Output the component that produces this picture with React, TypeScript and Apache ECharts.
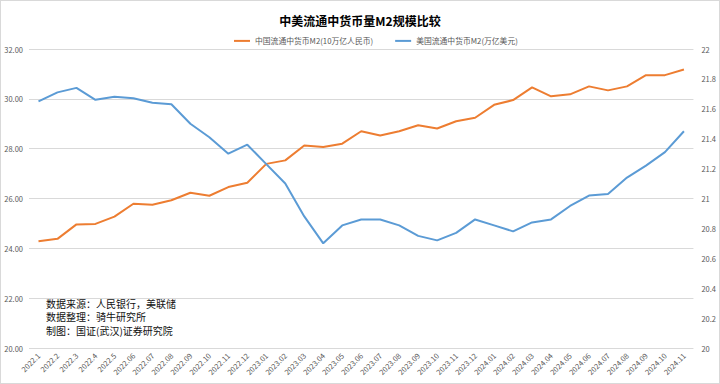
import React, { useEffect, useRef } from "react";
import * as echarts from "echarts";

const categories = [
  "2022.1", "2022.2", "2022.3", "2022.4", "2022.5", "2022.06", "2022.07", "2022.08", "2022.09", "2022.10", "2022.11", "2022.12",
  "2023.01", "2023.02", "2023.03", "2023.04", "2023.05", "2023.06", "2023.07", "2023.08", "2023.09", "2023.10", "2023.11", "2023.12",
  "2024.01", "2024.02", "2024.03", "2024.04", "2024.05", "2024.06", "2024.07", "2024.08", "2024.09", "2024.10", "2024.11",
];

const chinaM2 = [
  24.28, 24.38, 24.96, 24.98, 25.27, 25.79, 25.75, 25.93, 26.23, 26.11, 26.46, 26.63,
  27.39, 27.53, 28.13, 28.07, 28.2, 28.7, 28.53, 28.7, 28.94, 28.81, 29.1, 29.24,
  29.76, 29.95, 30.46, 30.1, 30.18, 30.5, 30.34, 30.5, 30.95, 30.95, 31.18,
];

const usM2 = [
  21.65, 21.71, 21.74, 21.66, 21.68, 21.67, 21.64, 21.63, 21.5, 21.41, 21.3, 21.36,
  21.23, 21.1, 20.88, 20.7, 20.82, 20.86, 20.86, 20.82, 20.75, 20.72, 20.77, 20.86,
  20.82, 20.78, 20.84, 20.86, 20.95, 21.02, 21.03, 21.14, 21.22, 21.31, 21.45,
];

const titleText = "中美流通中货币量M2规模比较";
const chinaName = "中国流通中货币M2(10万亿人民币)";
const usName = "美国流通中货币M2(万亿美元)";
const notes = ["数据来源：人民银行，美联储", "数据整理：骑牛研究所", "制图：国证(武汉)证券研究院"];

const FONT = "'Noto Sans CJK SC', 'Noto Sans', sans-serif";

export default function App() {
  const ref = useRef<HTMLDivElement>(null);
  useEffect(() => {
    if (!ref.current) return;
    const chart = echarts.init(ref.current, undefined, { renderer: "svg" });
    chart.setOption({
      animation: false,
      backgroundColor: "#fff",
      textStyle: { fontFamily: FONT },
      title: {
        text: titleText,
        left: "center",
        top: 8,
        textStyle: { fontSize: 12, fontWeight: "bold", color: "#000", fontFamily: FONT },
      },
      legend: {
        top: 31,
        left: 228,
        icon: "rect",
        itemWidth: 16,
        itemHeight: 2,
        itemGap: 22,
        textStyle: { fontSize: 7.8, color: "#595959", fontFamily: FONT },
        data: [chinaName, usName],
      },
      grid: { left: 28, right: 23, top: 48, bottom: 35, containLabel: false },
      xAxis: {
        type: "category",
        data: categories,
        boundaryGap: true,
        axisLine: { show: false },
        axisTick: { show: false },
        axisLabel: { rotate: 45, fontSize: 7.5, color: "#595959", margin: 6, interval: 0, fontFamily: FONT },
      },
      yAxis: [
        {
          type: "value",
          min: 20,
          max: 32,
          interval: 2,
          axisLine: { show: false },
          axisTick: { show: false },
          splitLine: { lineStyle: { color: "#d9d9d9", width: 1 } },
          axisLabel: {
            fontSize: 7.5,
            color: "#595959",
            margin: 6,
            fontFamily: FONT,
            formatter: (v: number) => v.toFixed(2),
          },
        },
        {
          type: "value",
          min: 20,
          max: 22,
          interval: 0.2,
          position: "right",
          axisLine: { show: false },
          axisTick: { show: false },
          splitLine: { show: false },
          axisLabel: { fontSize: 7.5, color: "#595959", margin: 8, fontFamily: FONT },
        },
      ],
      series: [
        {
          name: chinaName,
          type: "line",
          data: chinaM2,
          yAxisIndex: 0,
          symbol: "none",
          lineStyle: { color: "#ED7D31", width: 2 },
          itemStyle: { color: "#ED7D31" },
        },
        {
          name: usName,
          type: "line",
          data: usM2,
          yAxisIndex: 1,
          symbol: "none",
          lineStyle: { color: "#5B9BD5", width: 2 },
          itemStyle: { color: "#5B9BD5" },
        },
      ],
      graphic: notes.map((t, i) => ({
        type: "text",
        left: 45,
        top: 297 + i * 13.5,
        style: { text: t, fontSize: 10, fill: "#111", fontFamily: FONT },
      })),
    });
    return () => chart.dispose();
  }, []);
  return (
    <div
      ref={ref}
      style={{
        position: "absolute",
        left: 0,
        top: 0,
        width: 720,
        height: 384,
        boxSizing: "border-box",
        border: "1px solid #d9d9d9",
      }}
    />
  );
}
